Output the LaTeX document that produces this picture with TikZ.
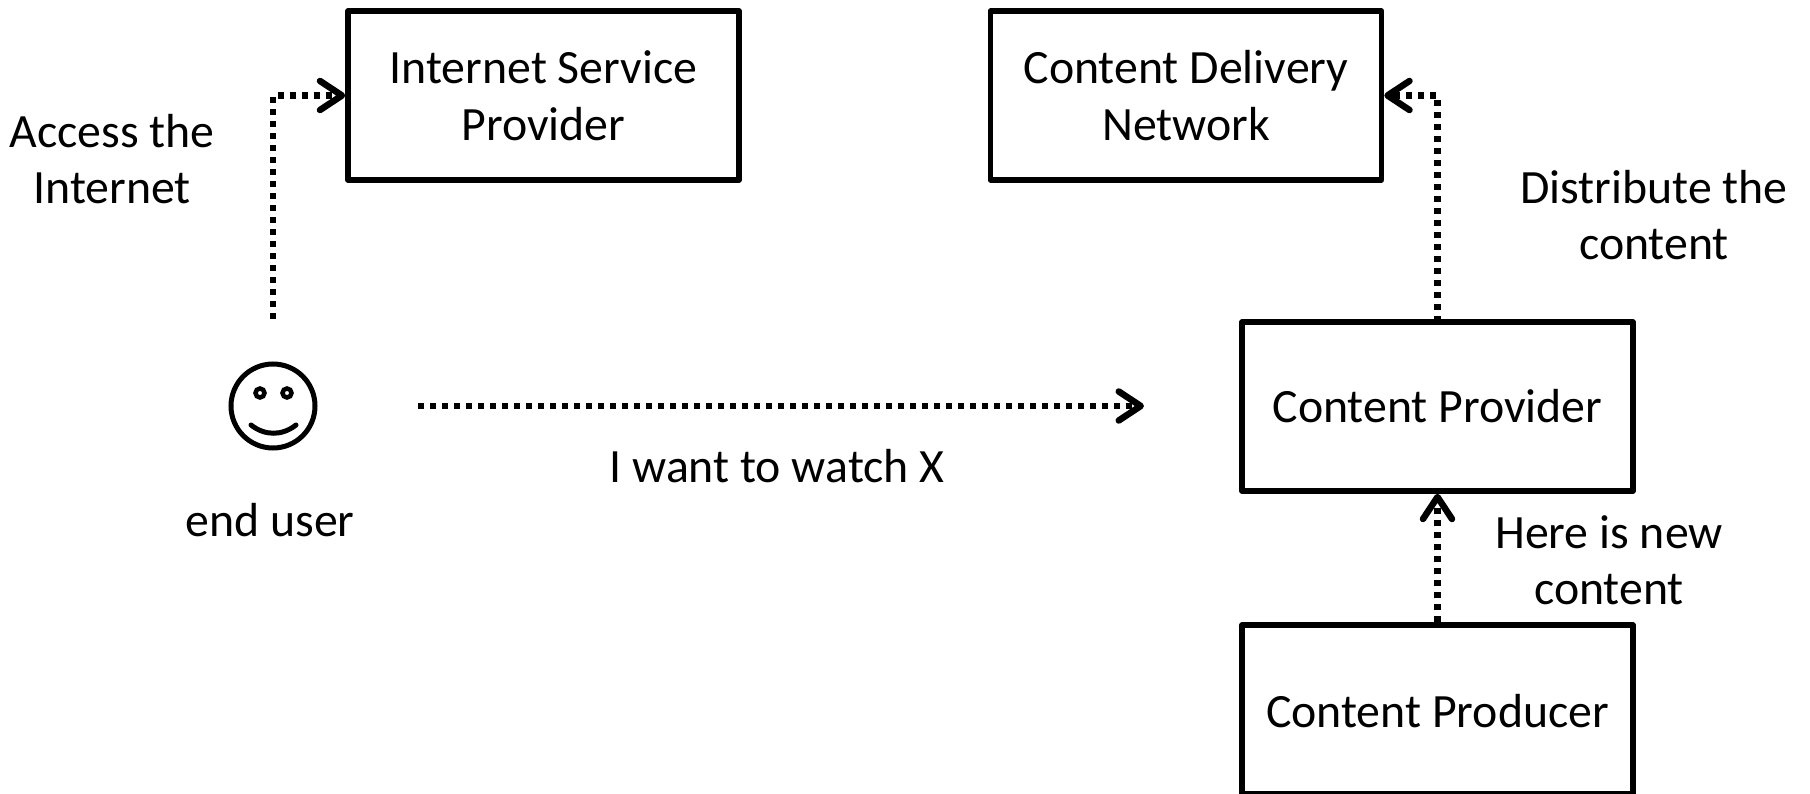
\documentclass[tikz,border=0pt]{standalone}
\usepackage{fontspec}
\setmainfont{Carlito}
\usetikzlibrary{arrows.meta}
\tikzset{
  x=1pt,y=-1pt,
  box/.style={draw=black,line width=5.5pt,line join=round,minimum width=391pt,minimum height=169pt,inner sep=0pt,align=center,font=\boxfont},
  lbl/.style={align=center,inner sep=0pt,font=\labelfont},
  flow/.style={line width=6.5pt,dash pattern=on 6pt off 6pt,line join=miter,-{Straight Barb[length=22pt,width=29pt,line width=6.5pt,round]}},
  face/.style={draw=black,line width=5pt,line cap=round}
}
\newcommand{\boxfont}{\fontsize{47.8}{57.5}\selectfont}
\newcommand{\labelfont}{\fontsize{47.8}{56.5}\selectfont}
\begin{document}
\begin{tikzpicture}
\useasboundingbox (0,0) rectangle (1810,794);
\node[box] (isp) at (543.5,95.5) {\raisebox{0pt}{Internet Service}\\Provider};
\node[box] (cdn) at (1186,95.5) {Content Delivery\\Network};
\node[box] (prov) at (1437.5,406.5) {Content Provider};
\node[box,text depth=0pt] (prod) at (1437.5,709.5) {\raisebox{-3pt}{Content Producer}};
\node[circle,draw=black,line width=5pt,minimum size=84pt,inner sep=0pt] (user) at (273,406) {};
\draw[line width=4.5pt] (260,393) circle (4.5pt);
\draw[line width=4.5pt] (287,393) circle (4.5pt);
\draw[face] (251,425) .. controls (265,436) and (282,436) .. (296,425);
\node[lbl] (accessl) at (112,159) {Access the\\Internet};
\node[lbl] (distl) at (1654,215) {Distribute the\\content};
\node[lbl] (newl) at (1609,560) {Here is new\\content};
\node[lbl] (wantl) at (777,466) {I want to watch X};
\node[lbl] (userl) at (270,520.5) {end user};
\coordinate (ustart) at (273,319);
\coordinate (uright) at (418,406);
\coordinate (wantend) at (1144,406);
\coordinate (provtop) at (1437.5,322);
\draw[flow] (ustart) |- (isp.west);
\draw[flow] (uright) -- (wantend);
\draw[flow] (provtop) |- (cdn.east);
\draw[flow] (prod.north) -- (prov.south);
\end{tikzpicture}
\end{document}
